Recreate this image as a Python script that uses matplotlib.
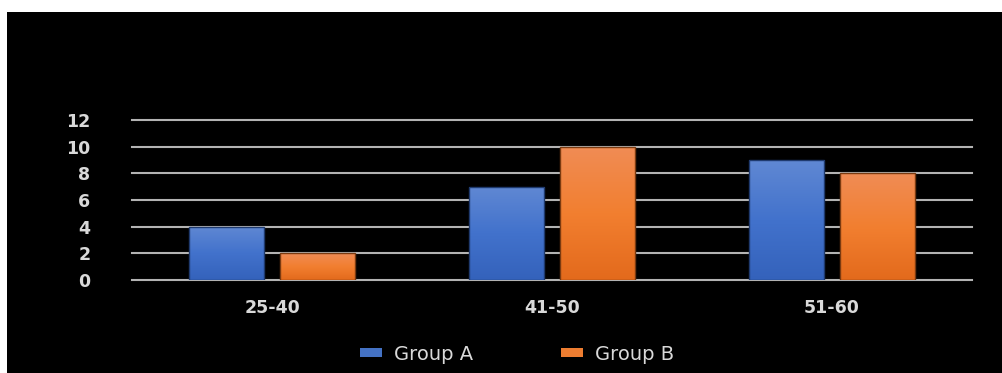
import numpy as np
import matplotlib
matplotlib.use("Agg")
import matplotlib.pyplot as plt
from matplotlib.patches import Rectangle, Patch
from matplotlib.colors import LinearSegmentedColormap

categories = ["25-40", "41-50", "51-60"]
group_a = [4, 7, 9]
group_b = [2, 10, 8]
series_names = ["Group A", "Group B"]
y_ticks = [0, 2, 4, 6, 8, 10, 12]

W, H, DPI = 1003, 373, 100
fig = plt.figure(figsize=(W / DPI, H / DPI), dpi=DPI, facecolor="white")

# black chart area inside a thin white frame on the top and left
fig.patches.append(Rectangle((7 / W, 0), 1 - 7 / W, 1 - 12 / H,
                             transform=fig.transFigure, facecolor="black",
                             edgecolor="none", zorder=-5))

ax = fig.add_axes([132 / W, 1 - 280 / H, (972 - 132) / W, 160 / H])
ax.set_facecolor("none")
ax.set_zorder(2)

text_col = "#d9d9d9"
grid_col = "#b3b3b3"

x = np.arange(len(categories))
width = 0.268
offset = 0.164

blue_cmap = LinearSegmentedColormap.from_list("b", ["#3462bb", "#4272cc", "#6088d3"])
orange_cmap = LinearSegmentedColormap.from_list("o", ["#e36a1c", "#f27f30", "#f08c55"])

grad = np.linspace(0, 1, 256).reshape(-1, 1)

def gradient_bars(xs, vals, cmap, edge):
    bars = ax.bar(xs, vals, width=width, color="none", edgecolor=edge,
                  linewidth=1.0, zorder=3)
    for b in bars:
        x0, y0 = b.get_x(), b.get_y()
        w, h = b.get_width(), b.get_height()
        im = ax.imshow(grad, extent=[x0, x0 + w, y0, y0 + h], origin="lower",
                       aspect="auto", cmap=cmap, zorder=2, interpolation="bilinear")
        im.set_clip_path(b)
    return bars

gradient_bars(x - offset, group_a, blue_cmap, "#1f3a6e")
gradient_bars(x + offset, group_b, orange_cmap, "#7a3a10")

ax.set_xlim(-0.5, len(categories) - 0.5)
ax.set_ylim(0, 12)
ax.set_yticks(y_ticks)
ax.set_xticks(x)
ax.set_xticklabels(categories)

for yv in y_ticks:
    ax.axhline(yv, color=grid_col, linewidth=1.5, zorder=1, clip_on=False)

for s in ax.spines.values():
    s.set_visible(False)
ax.tick_params(axis="both", length=0, colors=text_col)
ax.tick_params(axis="y", pad=30)
ax.tick_params(axis="x", pad=14)
for lab in ax.get_yticklabels() + ax.get_xticklabels():
    lab.set_fontfamily("DejaVu Sans")
    lab.set_fontweight("bold")
    lab.set_fontsize(12.5)
    lab.set_color(text_col)

handles = [Patch(facecolor="#4472c4", edgecolor="none"),
           Patch(facecolor="#ed7d31", edgecolor="none")]
leg = fig.legend(handles, series_names, loc="center", bbox_to_anchor=(517 / W, 1 - 354 / H),
                 ncol=2, frameon=False, handlelength=1.15, handleheight=0.38,
                 handletextpad=0.6, columnspacing=4.5,
                 prop={"family": "DejaVu Sans", "size": 14})
for t in leg.get_texts():
    t.set_color(text_col)

fig.savefig("out.png", dpi=DPI, facecolor=fig.get_facecolor())
